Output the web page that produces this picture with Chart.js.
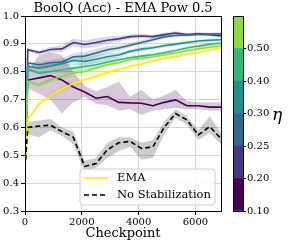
<!DOCTYPE html>
<html>
<head>
<meta charset="utf-8">
<script src="https://cdn.jsdelivr.net/npm/chart.js@4"></script>
<style>
  html, body { margin: 0; padding: 0; background: #fff; }
  #wrap { position: relative; width: 289px; height: 244px; }
  #main { position: absolute; left: 0; top: 0; }
  #cbar { position: absolute; left: 225px; top: 0; }
</style>
</head>
<body>
<div id="wrap">
  <canvas id="main" width="289" height="244"></canvas>
  <canvas id="cbar" width="64" height="244"></canvas>
</div>
<script>
// checkpoints (x values)
var checkpoints = [0, 100, 500, 900, 1300, 1700, 2100, 2500, 2900, 3300, 3700, 4100, 4500, 4900, 5300, 5700, 6100, 6500, 6900];
var xTicks = [0, 2000, 4000, 6000];

// accuracy per eta
var eta010 = [0.455, 0.770, 0.778, 0.786, 0.770, 0.745, 0.727, 0.705, 0.711, 0.690, 0.688, 0.687, 0.678, 0.690, 0.699, 0.678, 0.678, 0.673, 0.673];
var eta020 = [0.455, 0.879, 0.869, 0.880, 0.882, 0.905, 0.898, 0.905, 0.913, 0.918, 0.926, 0.928, 0.926, 0.933, 0.939, 0.933, 0.936, 0.933, 0.928];
var eta025 = [0.455, 0.831, 0.825, 0.832, 0.835, 0.854, 0.856, 0.867, 0.879, 0.885, 0.895, 0.905, 0.915, 0.925, 0.930, 0.932, 0.934, 0.935, 0.936];
var eta030 = [0.455, 0.819, 0.813, 0.820, 0.829, 0.840, 0.837, 0.845, 0.854, 0.860, 0.873, 0.881, 0.886, 0.893, 0.899, 0.905, 0.910, 0.913, 0.915];
var eta040 = [0.455, 0.810, 0.795, 0.801, 0.807, 0.813, 0.819, 0.825, 0.835, 0.843, 0.850, 0.856, 0.861, 0.868, 0.876, 0.885, 0.892, 0.898, 0.903];
var eta050 = [0.455, 0.765, 0.753, 0.771, 0.783, 0.795, 0.801, 0.813, 0.825, 0.832, 0.843, 0.848, 0.853, 0.860, 0.867, 0.875, 0.882, 0.888, 0.893];
var ema    = [0.455, 0.630, 0.685, 0.715, 0.738, 0.758, 0.772, 0.784, 0.797, 0.808, 0.819, 0.828, 0.839, 0.848, 0.855, 0.863, 0.870, 0.878, 0.885];
var noStab = [0.455, 0.600, 0.605, 0.608, 0.585, 0.565, 0.460, 0.470, 0.520, 0.545, 0.550, 0.525, 0.530, 0.600, 0.650, 0.627, 0.573, 0.603, 0.560];

// shaded spreads
var eta010_lo = [0.455, 0.740, 0.720, 0.700, 0.650, 0.690, 0.710, 0.685, 0.680, 0.660, 0.665, 0.645, 0.660, 0.665, 0.670, 0.665, 0.665, 0.660, 0.660];
var eta010_hi = [0.455, 0.800, 0.860, 0.870, 0.860, 0.800, 0.750, 0.730, 0.745, 0.765, 0.710, 0.735, 0.700, 0.715, 0.735, 0.695, 0.690, 0.690, 0.690];
var noStab_lo = [0.450, 0.575, 0.565, 0.590, 0.570, 0.540, 0.440, 0.455, 0.490, 0.515, 0.530, 0.485, 0.490, 0.575, 0.635, 0.610, 0.555, 0.580, 0.540];
var noStab_hi = [0.460, 0.620, 0.625, 0.630, 0.600, 0.585, 0.480, 0.490, 0.545, 0.565, 0.565, 0.545, 0.555, 0.620, 0.665, 0.640, 0.590, 0.640, 0.580];
var etaSpread = [0, 0.006, 0.008, 0.010, 0.012, 0.014, 0.015, 0.015, 0.013, 0.010, 0.008, 0.008, 0.007, 0.007, 0.006, 0.006, 0.006, 0.006, 0.006];

// colorbar
var etaTicks = ['0.10', '0.20', '0.25', '0.30', '0.40', '0.50'];
var etaBins = [1, 1, 1, 1, 1, 1];
var etaColors = ['#440154', '#443983', '#31688e', '#21918c', '#35b779', '#90d743'];
var emaColor = '#fde725';

var serif = "'DejaVu Serif', serif";

function pts (arr) {
  return checkpoints.map(function (c, i) { return { x: c, y: arr[i] }; });
}

function shift (arr, s, sign) {
  return arr.map(function (v, i) { return v + sign * s[i]; });
}

function hexa (hex, a) {
  var n = parseInt(hex.slice(1), 16);
  return 'rgba(' + (n >> 16) + ',' + ((n >> 8) & 255) + ',' + (n & 255) + ',' + a + ')';
}

var datasets = [];

function add_band (lo, hi, color) {
  datasets.push({ data: pts(lo), borderWidth: 0, pointRadius: 0, fill: false, order: 20 });
  datasets.push({ data: pts(hi), borderWidth: 0, pointRadius: 0, fill: '-1', backgroundColor: color, order: 20 });
}

function add_line (arr, color, order, dash) {
  datasets.push({ data: pts(arr), borderColor: color, borderWidth: 1.6, pointRadius: 0, fill: false, order: order, borderDash: dash || [] });
}

add_band(eta010_lo, eta010_hi, hexa(etaColors[0], 0.22));
add_band(noStab_lo, noStab_hi, 'rgba(0,0,0,0.2)');
var etaSeries = [eta020, eta025, eta030, eta040, eta050];
etaSeries.forEach(function (arr, k) {
  add_band(shift(arr, etaSpread, -1), shift(arr, etaSpread, 1), hexa(etaColors[k + 1], 0.2));
});
add_band(shift(ema, etaSpread, -1), shift(ema, etaSpread, 1), hexa(emaColor, 0.25));

add_line(eta010, etaColors[0], 8);
etaSeries.forEach(function (arr, k) { add_line(arr, etaColors[k + 1], 7 - k); });
add_line(ema, emaColor, 1);
add_line(noStab, '#000', 0, [5, 3]);

var decor = {
  id: 'decor',
  afterDraw: function (chart) {
    var ctx = chart.ctx, a = chart.chartArea;
    ctx.save();
    ctx.strokeStyle = '#000';
    ctx.lineWidth = 1;
    ctx.strokeRect(Math.round(a.left) + 0.5, Math.round(a.top) + 0.5, Math.round(a.right - a.left), Math.round(a.bottom - a.top));

    // title
    ctx.fillStyle = '#000';
    ctx.font = '13px ' + serif;
    ctx.textAlign = 'center';
    ctx.textBaseline = 'alphabetic';
    ctx.fillText('BoolQ (Acc) - EMA Pow 0.5', (a.left + a.right) / 2, a.top - 4);

    // legend
    var bx = a.right - 141, by = a.bottom - 42, bw = 135, bh = 36;
    ctx.beginPath();
    ctx.roundRect(bx, by, bw, bh, 3);
    ctx.fillStyle = 'rgba(255,255,255,0.85)';
    ctx.fill();
    ctx.strokeStyle = '#cccccc';
    ctx.stroke();
    ctx.lineWidth = 1.6;
    ctx.strokeStyle = emaColor;
    ctx.beginPath(); ctx.moveTo(bx + 4, by + 9); ctx.lineTo(bx + 28, by + 9); ctx.stroke();
    ctx.strokeStyle = '#000';
    ctx.setLineDash([5, 3]);
    ctx.beginPath(); ctx.moveTo(bx + 4, by + 26); ctx.lineTo(bx + 28, by + 26); ctx.stroke();
    ctx.setLineDash([]);
    ctx.fillStyle = '#000';
    ctx.font = '11.5px ' + serif;
    ctx.textAlign = 'left';
    ctx.textBaseline = 'middle';
    ctx.fillText('EMA', bx + 37, by + 9);
    ctx.fillText('No Stabilization', bx + 37, by + 26);
    ctx.restore();
  }
};

new Chart(document.getElementById('main').getContext('2d'), {
  type: 'line',
  data: { datasets: datasets },
  options: {
    responsive: false,
    animation: false,
    devicePixelRatio: 1,
    layout: { padding: { top: 16, right: 68, left: 0, bottom: 0 } },
    elements: { line: { tension: 0 } },
    plugins: { legend: { display: false }, tooltip: { enabled: false }, title: { display: false } },
    scales: {
      x: {
        type: 'linear', min: 0, max: 6900,
        afterBuildTicks: function (s) { s.ticks = xTicks.map(function (v) { return { value: v }; }); },
        ticks: { color: '#000', font: { family: serif, size: 10 }, padding: 1, maxRotation: 0, autoSkip: false, callback: function (v) { return String(v); } },
        grid: { color: '#d4d4d4', tickColor: '#000', tickLength: 4 },
        border: { color: '#000' },
        title: { display: true, text: 'Checkpoint', color: '#000', font: { family: serif, size: 13 }, padding: { top: 0, bottom: 3 } },
        afterFit: function (s) { s.height = 33; }
      },
      y: {
        min: 0.3, max: 1.0,
        ticks: { stepSize: 0.1, color: '#000', font: { family: serif, size: 10 }, padding: 2, callback: function (v) { return v.toFixed(1); } },
        grid: { color: '#d4d4d4', tickColor: '#000', tickLength: 4 },
        border: { color: '#000' },
        afterFit: function (s) { s.width = 25; }
      }
    }
  },
  plugins: [decor]
});

var cbarDecor = {
  id: 'cbarDecor',
  afterDraw: function (chart) {
    var ctx = chart.ctx, a = chart.chartArea;
    ctx.save();
    ctx.strokeStyle = '#000';
    ctx.lineWidth = 1;
    ctx.strokeRect(Math.round(a.left) + 0.5, Math.round(a.top) + 0.5, Math.round(a.right - a.left), Math.round(a.bottom - a.top));
    ctx.fillStyle = '#000';
    ctx.font = 'italic 17px ' + serif;
    ctx.textAlign = 'center';
    ctx.textBaseline = 'middle';
    ctx.fillText('\u03b7', 52, (a.top + a.bottom) / 2 + 2);
    ctx.restore();
  }
};

new Chart(document.getElementById('cbar').getContext('2d'), {
  type: 'bar',
  data: {
    labels: [''],
    datasets: etaBins.map(function (v, i) {
      return { data: [v], backgroundColor: etaColors[i], borderWidth: 0, barPercentage: 1, categoryPercentage: 1 };
    })
  },
  options: {
    responsive: false,
    animation: false,
    devicePixelRatio: 1,
    layout: { padding: { left: 8, top: 16, bottom: 33, right: 0 } },
    plugins: { legend: { display: false }, tooltip: { enabled: false } },
    scales: {
      x: { stacked: true, display: false },
      y: {
        stacked: true, position: 'right', min: 0, max: 6,
        ticks: { stepSize: 1, color: '#000', font: { family: serif, size: 10 }, padding: 1, callback: function (v) { return etaTicks[v]; } },
        grid: { drawOnChartArea: false, tickLength: 3, tickColor: '#000' },
        border: { color: '#000' },
        afterFit: function (s) { s.width = 46; }
      }
    }
  },
  plugins: [cbarDecor]
});
</script>
</body>
</html>
